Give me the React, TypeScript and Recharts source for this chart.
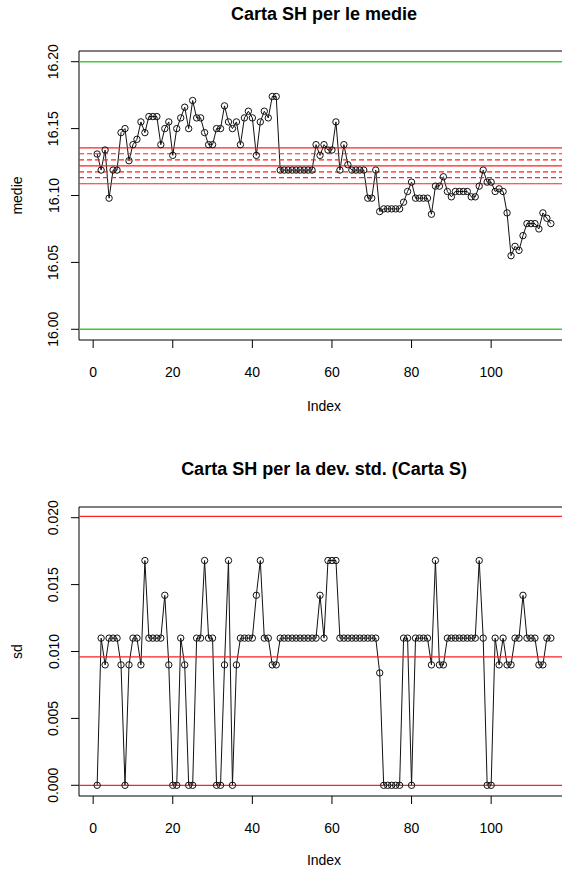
import React from 'react';
import { LineChart, Line, XAxis, YAxis, ReferenceLine, ReferenceArea } from 'recharts';

const FONT = '"Liberation Sans", Arial, sans-serif';

// medie dei sottogruppi (Index 1..115)
const means = [
  16.131, 16.119, 16.134, 16.098, 16.119, 16.119, 16.147, 16.150, 16.126, 16.138,
  16.142, 16.155, 16.147, 16.159, 16.159, 16.159, 16.138, 16.150, 16.155, 16.130,
  16.150, 16.158, 16.166, 16.150, 16.171, 16.158, 16.158, 16.147, 16.138, 16.138,
  16.150, 16.150, 16.167, 16.155, 16.150, 16.155, 16.138, 16.158, 16.163, 16.158,
  16.130, 16.155, 16.163, 16.158, 16.174, 16.174, 16.119, 16.119, 16.119, 16.119,
  16.119, 16.119, 16.119, 16.119, 16.119, 16.138, 16.130, 16.138, 16.134, 16.134,
  16.155, 16.119, 16.138, 16.123, 16.119, 16.119, 16.119, 16.119, 16.098, 16.098,
  16.119, 16.088, 16.090, 16.090, 16.090, 16.090, 16.090, 16.095, 16.103, 16.110,
  16.098, 16.098, 16.098, 16.098, 16.086, 16.107, 16.107, 16.114, 16.103, 16.099,
  16.103, 16.103, 16.103, 16.103, 16.099, 16.099, 16.107, 16.119, 16.110, 16.110,
  16.103, 16.105, 16.103, 16.087, 16.055, 16.062, 16.059, 16.070, 16.079, 16.079,
  16.079, 16.075, 16.087, 16.083, 16.079,
];

// deviazioni standard dei sottogruppi
const sds = [
  0, 0.011, 0.009, 0.011, 0.011, 0.011, 0.009, 0, 0.009, 0.011,
  0.011, 0.009, 0.0168, 0.011, 0.011, 0.011, 0.011, 0.0142, 0.009, 0,
  0, 0.011, 0.009, 0, 0, 0.011, 0.011, 0.0168, 0.011, 0.011,
  0, 0, 0.009, 0.0168, 0, 0.009, 0.011, 0.011, 0.011, 0.011,
  0.0142, 0.0168, 0.011, 0.011, 0.009, 0.009, 0.011, 0.011, 0.011, 0.011,
  0.011, 0.011, 0.011, 0.011, 0.011, 0.011, 0.0142, 0.011, 0.0168, 0.0168,
  0.0168, 0.011, 0.011, 0.011, 0.011, 0.011, 0.011, 0.011, 0.011, 0.011,
  0.011, 0.0084, 0, 0, 0, 0, 0, 0.011, 0.011, 0,
  0.011, 0.011, 0.011, 0.011, 0.009, 0.0168, 0.009, 0.009, 0.011, 0.011,
  0.011, 0.011, 0.011, 0.011, 0.011, 0.011, 0.0168, 0.011, 0, 0,
  0.011, 0.009, 0.011, 0.009, 0.009, 0.011, 0.011, 0.0142, 0.011, 0.011,
  0.011, 0.009, 0.009, 0.011, 0.011,
];

const xTicks = [0, 20, 40, 60, 80, 100];
const meanTicks = [16.0, 16.05, 16.1, 16.15, 16.2];
const sdTicks = [0, 0.005, 0.01, 0.015, 0.02];

// limiti di specifica (verde) e di controllo (rosso)
const meanSpec = [16.0, 16.2];
const meanLimits = [16.1356, 16.1222, 16.1088];
const meanSigma = [16.1312, 16.1267, 16.1177, 16.1133];
const sdLimits = [0.0201, 0.0096, 0];

const meanData = means.map((v, k) => ({ i: k + 1, v }));
const sdData = sds.map((v, k) => ({ i: k + 1, v }));

const X_DOMAIN: [number, number] = [-3.56, 119.56];
const MEAN_DOMAIN: [number, number] = [15.992, 16.208];
const SD_DOMAIN: [number, number] = [-0.0008, 0.0208];

const W = 575;
const H = 456;
const MARGIN = { top: 51, right: 6, bottom: 76, left: 0 };

const XTick = ({ x, payload }: any) => (
  <text x={x} y={377} textAnchor="middle" fontSize={14} fontFamily={FONT} fill="#000">
    {payload.value}
  </text>
);

const makeYTick = (digits: number) => ({ y, payload }: any) => (
  <text
    x={58.5}
    y={y}
    transform={`rotate(-90, 58.5, ${y})`}
    textAnchor="middle"
    fontSize={14}
    fontFamily={FONT}
    fill="#000"
  >
    {Number(payload.value).toFixed(digits)}
  </text>
);

const Panel = ({ data, domain, ticks, digits, children }: any) => (
  <LineChart width={W} height={H} data={data} margin={MARGIN}>
    <XAxis
      dataKey="i"
      type="number"
      domain={X_DOMAIN}
      ticks={xTicks}
      allowDataOverflow
      height={40}
      tickSize={8}
      axisLine={false}
      tickLine={{ stroke: '#000' }}
      tick={<XTick />}
    />
    <YAxis
      type="number"
      domain={domain}
      ticks={ticks}
      allowDataOverflow
      width={79}
      tickSize={8}
      axisLine={false}
      tickLine={{ stroke: '#000' }}
      tick={makeYTick(digits)}
    />
    <ReferenceArea
      x1={X_DOMAIN[0]}
      x2={X_DOMAIN[1]}
      y1={domain[0]}
      y2={domain[1]}
      fill="none"
      stroke="#000"
      strokeWidth={1}
      ifOverflow="visible"
    />
    <Line
      type="linear"
      dataKey="v"
      stroke="#111"
      strokeWidth={1}
      dot={{ r: 3.2, fill: 'none', stroke: '#111', strokeWidth: 1 }}
      isAnimationActive={false}
    />
    {children}
  </LineChart>
);

export default function App() {
  return (
    <div style={{ position: 'absolute', left: 0, top: 0, width: 562, height: 870, overflow: 'hidden', background: '#fff' }}>
      <div style={{ position: 'absolute', left: 0, top: 0 }}>
        <Panel data={meanData} domain={MEAN_DOMAIN} ticks={meanTicks} digits={2}>
          {meanSpec.map((v) => (
            <ReferenceLine key={'g' + v} y={v} stroke="#3ccc3c" strokeWidth={1.5} />
          ))}
          {meanLimits.map((v) => (
            <ReferenceLine key={'r' + v} y={v} stroke="#ff2020" strokeWidth={1.2} />
          ))}
          {meanSigma.map((v) => (
            <ReferenceLine key={'d' + v} y={v} stroke="#ff2020" strokeWidth={1.2} strokeDasharray="5 3" />
          ))}
        </Panel>
      </div>
      <div style={{ position: 'absolute', left: 0, top: 456 }}>
        <Panel data={sdData} domain={SD_DOMAIN} ticks={sdTicks} digits={3}>
          {sdLimits.map((v) => (
            <ReferenceLine key={'r' + v} y={v} stroke="#ff2020" strokeWidth={1.2} />
          ))}
        </Panel>
      </div>
      <svg width={562} height={870} style={{ position: 'absolute', left: 0, top: 0, pointerEvents: 'none' }}>
        <g fontFamily={FONT} fill="#000">
          <text x={324} y={20} textAnchor="middle" fontSize={18} fontWeight="bold">Carta SH per le medie</text>
          <text x={324} y={411} textAnchor="middle" fontSize={14}>Index</text>
          <text x={22} y={195.5} transform="rotate(-90, 22, 195.5)" textAnchor="middle" fontSize={14}>medie</text>
          <text x={324} y={474.5} textAnchor="middle" fontSize={18} fontWeight="bold">Carta SH per la dev. std. (Carta S)</text>
          <text x={324} y={865} textAnchor="middle" fontSize={14}>Index</text>
          <text x={22} y={651.5} transform="rotate(-90, 22, 651.5)" textAnchor="middle" fontSize={14}>sd</text>
        </g>
      </svg>
    </div>
  );
}
